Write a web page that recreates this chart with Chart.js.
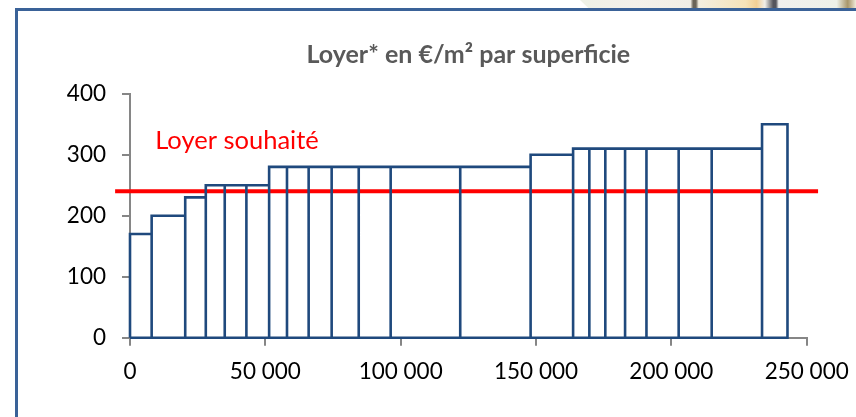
<!DOCTYPE html>
<html>
<head>
<meta charset="utf-8">
<style>
  html, body { margin: 0; padding: 0; background: #fff; overflow: hidden; }
  #cadre { position: absolute; left: 15px; top: 8px; width: 841px; height: 409px; border-top: 3px solid #3A6298; border-left: 3px solid #3A6298; box-sizing: border-box; }
  #fond { position: absolute; left: 580px; top: 0; width: 276px; height: 8px; clip-path: polygon(0 0, 100% 0, 100% 100%, 3% 100%);
    background: linear-gradient(90deg, #eef1e6 0, #f4f1ea 20%, #f1eee6 40%, #6a6458 41%, #6a6458 42%, #f3eee0 43%, #f6e3b8 60%, #f2cf94 64%, #f1efe9 67%, #55555c 70%, #55555c 71%, #f0f0ee 72%, #eef1e8 93%, #a8966a 97%, #f0ead9 100%); }
  #zone { position: absolute; left: 0; top: 0; width: 856px; height: 417px; }
  canvas { display: block; }
</style>
</head>
<body>
<div id="fond"></div>
<div id="cadre"></div>
<div id="zone"><canvas id="myChart" width="856" height="417"></canvas></div>
<script src="https://cdn.jsdelivr.net/npm/chart.js@4/dist/chart.umd.min.js"></script>
<script>
// Bornes des superficies (une de plus que de loyers)
var superficies = [0, 8000, 20400, 28000, 35000, 43000, 51400, 58000, 66000, 74500, 84500, 96300, 122000,
    148000, 163700, 169700, 175600, 182900, 190800, 202700, 214900, 233500, 242900];
var loyers = [170, 200, 230, 250, 250, 250, 280, 280, 280, 280, 280, 280, 280,
    300, 310, 310, 310, 310, 310, 310, 310, 350];

// Droite du loyer souhaité
var loyerSouhaite = 240;
var souhaiteDebut = -5500;
var souhaiteFin = 254200;

var titre = 'Loyer* en €/m² par superficie';
var etiquette = 'Loyer souhaité';

// Contour des barres: chaque barre monte, traverse puis redescend
var contour = [];
loyers.forEach(function(loyer, i) {
    contour.push({x: superficies[i], y: 0});
    contour.push({x: superficies[i], y: loyer});
    contour.push({x: superficies[i + 1], y: loyer});
    contour.push({x: superficies[i + 1], y: 0});
});
contour.push({x: 0, y: 0});

// Texte rouge au dessus de la droite
var etiquettePlugin = {
    id: 'etiquette',
    afterDatasetsDraw: function(chart) {
        var ctx = chart.ctx;
        ctx.save();
        ctx.font = '25.5px Lato';
        ctx.fillStyle = '#FF0000';
        ctx.textBaseline = 'middle';
        ctx.fillText(etiquette, chart.scales.x.getPixelForValue(9300), chart.scales.y.getPixelForValue(323));
        ctx.restore();
    }
};

var ctx = document.getElementById('myChart').getContext('2d');
var myChart = new Chart(ctx, {
    type: 'scatter',
    data: {
        datasets: [{
            label: 'Loyer',
            data: contour,
            showLine: true,
            borderColor: '#1F497D',
            borderWidth: 2.6,
            pointRadius: 0,
            tension: 0,
            clip: false
        }, {
            label: etiquette,
            data: [{x: souhaiteDebut, y: loyerSouhaite}, {x: souhaiteFin, y: loyerSouhaite}],
            showLine: true,
            borderColor: '#FF0000',
            borderWidth: 4,
            pointRadius: 0,
            clip: false
        }]
    },
    plugins: [etiquettePlugin],
    options: {
        responsive: false,
        animation: false,
        layout: { padding: { left: 0, right: 49.3, top: 0, bottom: 0 } },
        plugins: {
            legend: { display: false },
            tooltip: { enabled: false },
            title: {
                display: true,
                text: titre,
                fullSize: false,
                color: '#595959',
                font: { family: 'Lato', size: 25, weight: 'bold', lineHeight: 1.2 },
                padding: { top: 40, bottom: 23.7 }
            }
        },
        scales: {
            x: {
                type: 'linear',
                min: 0,
                max: 250000,
                afterFit: function(scale) {
                    scale.height = 417 - 337.7;
                    scale.paddingLeft = 0;
                    scale.paddingRight = 0;
                },
                border: { color: '#868686', width: 2 },
                grid: { drawOnChartArea: false, color: '#868686', lineWidth: 2, tickLength: 8 },
                ticks: {
                    stepSize: 50000,
                    maxRotation: 0,
                    color: '#000',
                    padding: 13,
                    font: { family: 'Lato', size: 22.5 },
                    callback: function(v) { return String(v).replace(/\B(?=(\d{3})+$)/g, ' '); }
                }
            },
            y: {
                min: 0,
                max: 400,
                afterFit: function(scale) { scale.width = 130; },
                border: { color: '#868686', width: 2 },
                grid: { drawOnChartArea: false, color: '#868686', lineWidth: 2, tickLength: 8 },
                ticks: {
                    stepSize: 100,
                    color: '#000',
                    padding: 16,
                    font: { family: 'Lato', size: 22.5 }
                }
            }
        }
    }
});
</script>
</body>
</html>
